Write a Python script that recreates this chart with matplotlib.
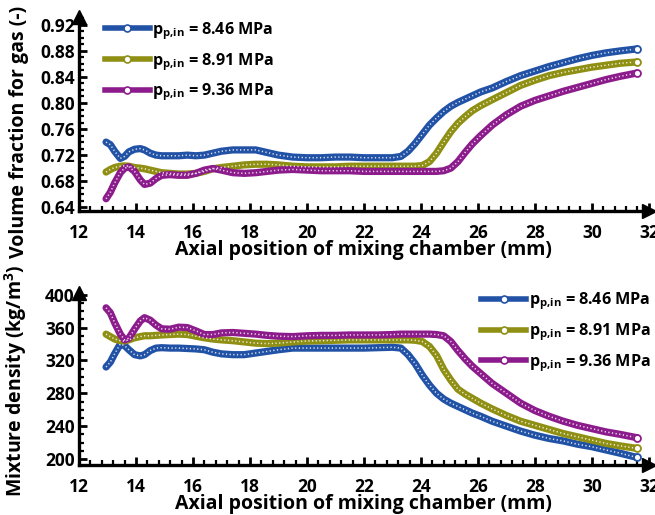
import matplotlib.pyplot as plt
from matplotlib.ticker import MultipleLocator

plt.rcParams['font.family'] = ['Open Sans', 'DejaVu Sans']
plt.rcParams['font.weight'] = 'bold'
plt.rcParams['mathtext.fontset'] = 'custom'
plt.rcParams['mathtext.rm'] = 'Open Sans:bold'
plt.rcParams['mathtext.it'] = 'Open Sans:bold'
plt.rcParams['mathtext.bf'] = 'Open Sans:bold'

# axial position (mm)
pos = [12.95, 13.1, 13.25, 13.45, 13.6, 13.75, 13.95, 14.15, 14.3, 14.5,
       14.7, 14.9, 15.2, 15.5, 15.8, 16.1, 16.4, 16.7, 17.0, 17.4,
       17.8, 18.2, 18.6, 19.0, 19.5, 20.0, 20.5, 21.0, 21.5, 22.0,
       22.5, 23.0, 23.3, 23.55, 23.8, 24.05, 24.3, 24.55, 24.8, 25.05,
       25.3, 25.55, 25.8, 26.1, 26.5, 27.0, 27.5, 28.0, 28.5, 29.0,
       29.5, 30.0, 30.5, 31.0, 31.58]

# gas volume fraction
vf_846 = [0.740, 0.736, 0.726, 0.715, 0.718, 0.725, 0.729, 0.730, 0.728, 0.723,
          0.720, 0.719, 0.719, 0.719, 0.720, 0.719, 0.720, 0.723, 0.726, 0.728,
          0.728, 0.728, 0.724, 0.720, 0.717, 0.716, 0.716, 0.717, 0.717, 0.716,
          0.716, 0.716, 0.718, 0.726, 0.738, 0.752, 0.766, 0.777, 0.787, 0.795,
          0.801, 0.806, 0.811, 0.817, 0.823, 0.833, 0.842, 0.849, 0.856, 0.862,
          0.868, 0.873, 0.877, 0.880, 0.883]
vf_891 = [0.694, 0.698, 0.701, 0.703, 0.7035, 0.703, 0.701, 0.700, 0.699, 0.697,
          0.695, 0.693, 0.692, 0.691, 0.691, 0.692, 0.695, 0.699, 0.701, 0.703,
          0.705, 0.706, 0.706, 0.705, 0.703, 0.702, 0.702, 0.702, 0.703, 0.703,
          0.703, 0.703, 0.703, 0.703, 0.703, 0.704, 0.710, 0.723, 0.740, 0.756,
          0.769, 0.779, 0.788, 0.796, 0.805, 0.816, 0.827, 0.835, 0.842, 0.847,
          0.851, 0.855, 0.858, 0.861, 0.863]
vf_936 = [0.653, 0.663, 0.677, 0.693, 0.700, 0.702, 0.695, 0.682, 0.675, 0.677,
          0.684, 0.689, 0.690, 0.689, 0.689, 0.692, 0.697, 0.6995, 0.697, 0.693,
          0.692, 0.693, 0.695, 0.697, 0.698, 0.697, 0.696, 0.696, 0.696, 0.695,
          0.695, 0.695, 0.695, 0.695, 0.695, 0.695, 0.695, 0.695, 0.696, 0.700,
          0.710, 0.724, 0.737, 0.750, 0.766, 0.782, 0.795, 0.804, 0.811, 0.818,
          0.824, 0.830, 0.836, 0.841, 0.846]

# mixture density (kg/m3)
rho_846 = [312, 318, 328, 340, 338, 333, 327, 325.5, 327, 332,
           335, 335.5, 335, 335, 334.5, 334, 333, 330, 328, 327,
           327, 329, 331, 333, 335, 335, 335, 335, 335, 335,
           335.5, 336, 335, 327, 316, 302, 290, 280, 273, 268,
           264, 260, 256, 252, 246, 240, 234, 229, 225, 222,
           218, 215, 211, 207, 202]
rho_891 = [352, 349, 346, 344, 343.6, 345, 347.5, 349, 350, 350,
           350.5, 351, 351.5, 352, 351.5, 349.5, 347.5, 346, 345, 344,
           342.5, 341, 340.5, 341, 342.5, 343.6, 344, 344.5, 345, 345,
           345, 345, 345, 345, 344.5, 343, 337, 326, 309, 296,
           285, 279, 274, 268, 261, 253, 246, 241, 236, 231,
           227, 223, 219, 216, 213]
rho_936 = [384, 378, 366, 352, 345, 347, 358, 368, 372, 369,
           363, 358.5, 358, 360.5, 360, 356, 351.5, 351.5, 353.5, 354,
           353, 352, 350.5, 349.5, 349, 350, 350.5, 350.5, 351, 351,
           351, 351.5, 352, 352, 352, 352, 352, 351.5, 350, 343,
           332, 322, 313, 304, 292, 280, 268, 259, 252, 246,
           241, 237, 233, 230, 226]

labels = [r'$p_{p{,}in}$ = 8.46 MPa', r'$p_{p{,}in}$ = 8.91 MPa', r'$p_{p{,}in}$ = 9.36 MPa']
colors = ['#2152a6', '#8f8f14', '#8c1c8c']


def draw_series(ax, x, y, color, label):
    # thick band with a chain of white dots, like densely packed open circles
    ax.plot(x, y, color=color, lw=5.2, solid_capstyle='round', solid_joinstyle='round', zorder=3)
    ax.plot(x, y, color='white', lw=1.1, ls=(0, (0.8, 1.6)), alpha=0.85, zorder=4)
    ax.plot(x[-1], y[-1], 'o', ms=5, mfc='white', mec=color, mew=1.3, zorder=5)
    # legend proxy
    ax.plot([], [], color=color, lw=4, marker='o', ms=5, mfc='white', mec=color,
            mew=1.2, label=label)


def style_axes(ax):
    for s in ['top', 'right']:
        ax.spines[s].set_visible(False)
    for s in ['left', 'bottom']:
        ax.spines[s].set_linewidth(2.4)
    ax.tick_params(which='major', direction='in', length=6, width=2, labelsize=12.5)
    ax.tick_params(which='minor', direction='in', length=3.5, width=1.6)
    ax.tick_params(axis='x', which='major', pad=9)
    ax.tick_params(axis='y', which='major', pad=3)
    ax.xaxis.set_major_locator(MultipleLocator(2))
    ax.xaxis.set_minor_locator(MultipleLocator(0.4))
    for t in ax.get_xticklabels() + ax.get_yticklabels():
        t.set_fontweight('bold')
    # arrow heads at the axis ends
    ax.plot(1.0, 0, '>', ms=10, color='black', transform=ax.transAxes, clip_on=False, zorder=6)
    ax.plot(0, 1.0, '^', ms=10, color='black', transform=ax.transAxes, clip_on=False, zorder=6)


fig = plt.figure(figsize=(6.55, 5.15), dpi=100)
ax1 = fig.add_axes([0.1206, 0.590, 0.870, 0.377])
ax2 = fig.add_axes([0.1206, 0.097, 0.870, 0.334])

for y, c, lab in zip([vf_846, vf_891, vf_936], colors, labels):
    draw_series(ax1, pos, y, c, lab)
for y, c, lab in zip([rho_846, rho_891, rho_936], colors, labels):
    draw_series(ax2, pos, y, c, lab)

ax1.set_xlim(12, 32)
ax1.set_ylim(0.634, 0.932)
ax1.yaxis.set_minor_locator(MultipleLocator(0.01))
ax1.set_yticks([0.64, 0.68, 0.72, 0.76, 0.80, 0.84, 0.88, 0.92])
ax1.set_yticklabels(['0.64', '0.68', '0.72', '0.76', '0.80', '0.84', '0.88', '0.92'])
style_axes(ax1)
ax1.set_xlabel('Axial position of mixing chamber (mm)', fontsize=14, fontweight='bold', labelpad=-1)
ax1.set_ylabel('Volume fraction for gas (-)', fontsize=14, fontweight='bold')
ax1.yaxis.set_label_coords(-0.088, 0.41)
ax1.legend(loc='upper left', bbox_to_anchor=(0.02, 1.06), frameon=False, fontsize=11.6,
           handlelength=2.8, handletextpad=0.15, labelspacing=0.55, numpoints=1)

ax2.set_xlim(12, 32)
ax2.set_ylim(192.7, 402)
ax2.yaxis.set_minor_locator(MultipleLocator(10))
ax2.set_yticks([200, 240, 280, 320, 360, 400])
style_axes(ax2)
ax2.set_xlabel('Axial position of mixing chamber (mm)', fontsize=14, fontweight='bold', labelpad=-1)
ax2.set_ylabel('Mixture density (kg/m$^3$)', fontsize=14, fontweight='bold')
ax2.yaxis.set_label_coords(-0.088, 0.49)
ax2.legend(loc='upper right', bbox_to_anchor=(1.028, 1.10), frameon=False, fontsize=11.6,
           handlelength=2.8, handletextpad=0.15, labelspacing=0.55, numpoints=1)

fig.savefig('out.png', dpi=100)
